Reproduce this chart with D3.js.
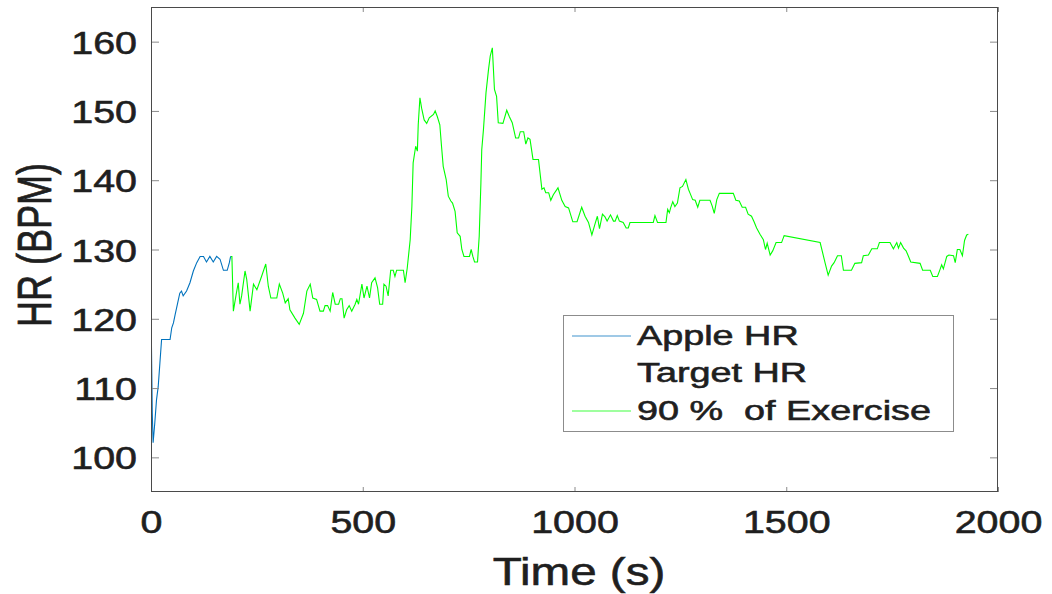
<!DOCTYPE html>
<html>
<head>
<meta charset="utf-8">
<script src="https://cdn.jsdelivr.net/npm/d3@7"></script>
<style>
  html, body { margin: 0; padding: 0; background: #fff; }
  svg { display: block; }
  text { font-family: "Liberation Sans", Arial, Helvetica, sans-serif; fill: #1f1f1f; stroke: #1f1f1f; stroke-width: 0.6px; }
</style>
</head>
<body>
<svg id="chart" width="1052" height="594"></svg>
<script>
// ---- data ----
const appleTime = [1, 3, 5, 9, 13, 17, 21, 25, 45, 49, 53, 57, 62, 68, 72, 76, 84, 92, 100, 108, 116, 124, 131, 139, 147, 155, 163, 171, 180, 185, 188];
const appleHR   = [116.5, 106.4, 102.1, 105, 108.3, 110.2, 113.6, 117, 117, 118.7, 119.4, 120.6, 122, 123.7, 124, 123.3, 124, 125.2, 126.9, 128.1, 129, 129, 128.2, 129, 128.2, 129, 128.6, 127, 127, 128.1, 129];

const exerciseTime = [188, 191, 194.5, 201, 206, 210, 214, 222, 226, 234, 242, 250, 261, 271, 277, 283, 297, 303, 311, 317, 324, 328, 340, 350, 360, 368, 376, 382, 391, 399, 407, 411, 417, 423, 429, 435, 443, 447, 451, 456, 462, 468, 474, 482, 486, 490, 498, 503, 510, 516, 521, 529, 535, 540, 547, 550, 555, 560, 566, 572, 576, 580, 596, 600, 605, 612, 616, 619, 625, 629, 631, 635, 639, 645, 651, 657, 667, 671, 676, 682, 686, 690, 697, 702, 708, 712, 718, 723, 730, 734, 739, 752, 756, 760, 764, 771, 775, 779, 781, 785, 791, 797, 801, 806, 811, 816, 820, 831, 840, 846, 853, 861, 868, 872, 880, 885, 890, 895, 902, 915, 923, 928, 932, 939, 944, 950, 961, 970, 978, 986, 996, 1006, 1017, 1025, 1033, 1041, 1049, 1054, 1059, 1066, 1072, 1077, 1085, 1092, 1096, 1101, 1106, 1115, 1122, 1127, 1131, 1186, 1190, 1196, 1216, 1220, 1224, 1227, 1232, 1237, 1243, 1249, 1255, 1263, 1269, 1273, 1279, 1285, 1291, 1296, 1320, 1325, 1330, 1336, 1342, 1375, 1381, 1389, 1396, 1404, 1410, 1418, 1424, 1430, 1438, 1446, 1451, 1455, 1462, 1468, 1476, 1489, 1495, 1580, 1586, 1592, 1599, 1607, 1613, 1621, 1630, 1635, 1654, 1662, 1678, 1682, 1694, 1702, 1715, 1720, 1745, 1753, 1761, 1765, 1770, 1777, 1783, 1788, 1794, 1816, 1822, 1840, 1846, 1857, 1863, 1867, 1871, 1879, 1884, 1895, 1899, 1904, 1910, 1916, 1921, 1926, 1930];
const exerciseHR = [129, 129, 121.1, 123.5, 125.2, 122.1, 123.3, 126.9, 125.7, 121.1, 125, 124.2, 126.1, 127.9, 124.7, 123, 123, 125, 123.7, 122.3, 122.9, 121.3, 120.1, 119.2, 120.8, 124, 125, 123, 122.8, 121.1, 121.1, 121.9, 121.9, 121.1, 123.8, 122.1, 122.1, 122.9, 122.9, 120.1, 121.3, 121.9, 121.1, 122.1, 122.8, 122.1, 125, 123, 124.7, 123, 125.2, 125.9, 124.5, 122.1, 122.1, 125, 124.7, 123.3, 127, 127, 126.1, 127, 127, 125.2, 127.3, 131.4, 136.2, 142.5, 144.9, 144.2, 148, 151.9, 150.4, 148.7, 148.2, 149, 149.5, 150, 149.2, 148, 144.9, 142, 140.1, 137.7, 137, 136.7, 135.5, 132.4, 131.9, 130, 129, 129, 130, 129, 128.2, 128.2, 131.9, 139.6, 144.4, 147.3, 152.6, 156, 157.9, 159.1, 153.1, 152.1, 148.3, 148.2, 150.1, 149.2, 148.3, 146.1, 146.1, 147, 147, 145.2, 146.1, 145.9, 143, 143, 138.7, 138.9, 138.2, 138.2, 137.1, 137.9, 138.9, 137.1, 136.2, 136, 134, 134, 136.1, 134.8, 133.9, 132.1, 133.8, 134.8, 133, 135.1, 134.7, 134.1, 135, 134.1, 134.1, 134.9, 134.1, 133.9, 133.1, 133.1, 133.9, 133.9, 134.9, 133.9, 133.9, 135.8, 135.3, 136, 136.9, 136.2, 136.7, 138.9, 139.1, 140.1, 138.7, 138.1, 137.2, 137.1, 136.1, 137.1, 137.1, 136.3, 135.2, 137.2, 138.1, 138.1, 137.1, 137, 136.1, 136.1, 135.1, 134.8, 134, 133.1, 132.2, 131.4, 130, 130.9, 129.2, 129.8, 131, 131, 132, 131, 129.5, 128, 126.3, 127.6, 128.1, 129.1, 129.1, 127, 127, 128, 128.1, 129.1, 129.2, 130.1, 130.1, 131, 131, 130.1, 131, 130.2, 131, 130.2, 129.8, 129.1, 128.2, 128, 127, 127, 126.1, 126.1, 127.1, 127.8, 127.2, 129, 129.2, 129.1, 128.1, 130, 130, 129.1, 131.3, 132.1, 132.2];

const xTicks = [0, 500, 1000, 1500, 2000];
const yTicks = [100, 110, 120, 130, 140, 150, 160];
const legendLabels = ["Apple HR", "Target HR", "90 %  of Exercise"];
const seriesColors = ["#0072BD", "none", "#00FF00"];
const xLabel = "Time (s)";
const yLabel = "HR (BPM)";

// ---- layout ----
const L = 151, R = 998, T = 7, B = 492;
const svg = d3.select("#chart");
svg.append("rect").attr("width", 1052).attr("height", 594).attr("fill", "#fff");

const x = d3.scaleLinear().domain([0, 2000]).range([L, R]);
const y = d3.scaleLinear().domain([95, 165]).range([B, T]);

svg.append("defs").append("clipPath").attr("id", "clip")
  .append("rect").attr("x", L).attr("y", T).attr("width", R - L).attr("height", B - T);

const line = d3.line().x(d => x(d[0])).y(d => y(d[1]));
const g = svg.append("g").attr("clip-path", "url(#clip)");

g.append("path")
  .datum(exerciseTime.map((t, i) => [t, exerciseHR[i]]))
  .attr("d", line).attr("fill", "none")
  .attr("stroke", seriesColors[2]).attr("stroke-width", 1.1);
g.append("path")
  .datum(appleTime.map((t, i) => [t, appleHR[i]]))
  .attr("d", line).attr("fill", "none")
  .attr("stroke", seriesColors[0]).attr("stroke-width", 1.1);

// ---- axes (ticks inside) ----
function styleAxis(sel) {
  sel.select(".domain").remove();
  sel.selectAll(".tick line").attr("stroke", "#8a8a8a").attr("stroke-width", 1);
}
const sx = 1.27;
const axB = svg.append("g").attr("transform", `translate(0,${B})`)
  .call(d3.axisBottom(x).tickValues(xTicks).tickSize(-5).tickFormat(d3.format("d")));
styleAxis(axB);
axB.selectAll("text")
  .attr("x", null).attr("y", null).attr("dy", null)
  .attr("text-anchor", "middle")
  .attr("transform", `translate(0,41) scale(${sx},1)`)
  .style("font-size", "31px").attr("fill", null);

const axT = svg.append("g").attr("transform", `translate(0,${T})`)
  .call(d3.axisTop(x).tickValues(xTicks).tickSize(-5).tickFormat(""));
styleAxis(axT);

const axL = svg.append("g").attr("transform", `translate(${L},0)`)
  .call(d3.axisLeft(y).tickValues(yTicks).tickSize(-8).tickFormat(d3.format("d")));
styleAxis(axL);
axL.selectAll("text")
  .attr("x", null).attr("y", null).attr("dy", null)
  .attr("text-anchor", "end")
  .attr("transform", `translate(-14,11.5) scale(${sx},1)`)
  .style("font-size", "31px").attr("fill", null);

const axR = svg.append("g").attr("transform", `translate(${R},0)`)
  .call(d3.axisRight(y).tickValues(yTicks).tickSize(-8).tickFormat(""));
styleAxis(axR);

// box
svg.append("rect")
  .attr("x", L + 0.5).attr("y", T + 0.5)
  .attr("width", R - L - 1).attr("height", B - T - 1)
  .attr("fill", "none").attr("stroke", "#4a4a4a").attr("stroke-width", 1);

// ---- axis labels ----
svg.append("text")
  .attr("text-anchor", "middle")
  .attr("transform", `translate(579,585) scale(1.22,1)`)
  .style("font-size", "39px")
  .text(xLabel);

svg.append("text")
  .attr("text-anchor", "middle")
  .attr("transform", `translate(51,245) rotate(-90) scale(1,1.35)`)
  .style("font-size", "36px")
  .text(yLabel);

// ---- legend ----
const lg = svg.append("g");
lg.append("rect")
  .attr("x", 563.5).attr("y", 315.5).attr("width", 390).attr("height", 116)
  .attr("fill", "#fff").attr("stroke", "#8c8c8c").attr("stroke-width", 1);
const rowLineY = [336, 373, 411];
const rowBase = [345, 382, 420];
legendLabels.forEach((lab, i) => {
  lg.append("line")
    .attr("x1", 572).attr("x2", 631)
    .attr("y1", rowLineY[i]).attr("y2", rowLineY[i])
    .attr("stroke", seriesColors[i] === "none" ? "none" : seriesColors[i])
    .attr("stroke-opacity", 0.5)
    .attr("stroke-width", 1.5);
  lg.append("text")
    .attr("transform", `translate(637,${rowBase[i]}) scale(1.4,1)`)
    .style("font-size", "27px")
    .style("white-space", "pre")
    .attr("xml:space", "preserve")
    .text(lab);
});
</script>
</body>
</html>
